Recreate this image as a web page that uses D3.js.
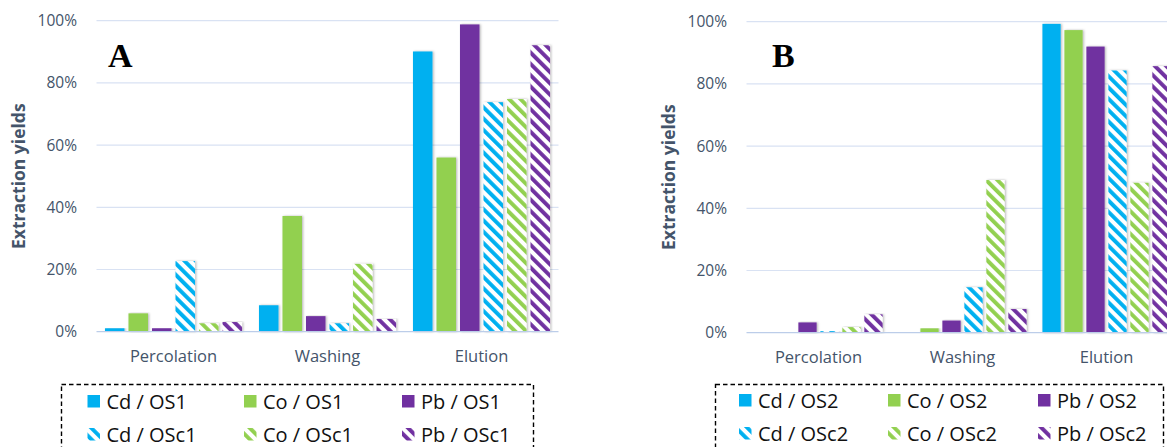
<!DOCTYPE html>
<html>
<head>
<meta charset="utf-8">
<script src="https://cdn.jsdelivr.net/npm/d3@7"></script>
<style>
  html, body { margin: 0; padding: 0; background: #fff; }
  svg { display: block; }
</style>
</head>
<body>
<svg id="chart" width="1167" height="447"></svg>
<script>
// ---------- data ----------
const categories = ["Percolation", "Washing", "Elution"];
const yTicks = [0, 20, 40, 60, 80, 100];
const metalColors = ["#00B0F0", "#92D050", "#7030A0"];

// Panel A (values in %)
const seriesA = ["Cd / OS1", "Co / OS1", "Pb / OS1", "Cd / OSc1", "Co / OSc1", "Pb / OSc1"];
const cdOS1  = [1.1, 8.5, 90.1];
const coOS1  = [5.9, 37.2, 56.0];
const pbOS1  = [1.1, 5.0, 98.8];
const cdOSc1 = [22.7, 2.7, 73.8];
const coOSc1 = [2.7, 21.8, 74.8];
const pbOSc1 = [3.1, 4.1, 92.1];

// Panel B (values in %)
const seriesB = ["Cd / OS2", "Co / OS2", "Pb / OS2", "Cd / OSc2", "Co / OSc2", "Pb / OSc2"];
const cdOS2  = [0, 0, 99.3];
const coOS2  = [0, 1.4, 97.3];
const pbOS2  = [3.3, 3.9, 92.0];
const cdOSc2 = [0.5, 14.6, 84.3];
const coOSc2 = [1.8, 49.1, 48.2];
const pbOSc2 = [5.9, 7.6, 85.7];

const valuesA = [cdOS1, coOS1, pbOS1, cdOSc1, coOSc1, pbOSc1];
const valuesB = [cdOS2, coOS2, pbOS2, cdOSc2, coOSc2, pbOSc2];

// ---------- drawing ----------
const svg = d3.select("#chart");
const defs = svg.append("defs");
const textColor = "#44546A";
const font = "'Open Sans', 'Noto Sans', sans-serif";

// hatch patterns
metalColors.forEach((c, i) => {
  const p = defs.append("pattern")
    .attr("id", "hatch" + i)
    .attr("patternUnits", "userSpaceOnUse")
    .attr("width", 8).attr("height", 8)
    .attr("patternTransform", "rotate(-45)");
  p.append("rect").attr("width", 8).attr("height", 8).attr("fill", "#fff");
  p.append("rect").attr("x", 0).attr("width", 3.9).attr("height", 8).attr("fill", c);
});
const sh = defs.append("filter").attr("id", "shadow")
  .attr("x", "-30%").attr("y", "-5%").attr("width", "160%").attr("height", "110%");
sh.append("feDropShadow").attr("dx", 1.2).attr("dy", 0).attr("stdDeviation", 0.9)
  .attr("flood-color", "#000").attr("flood-opacity", 0.28);

function fillFor(i) {
  return i < 3 ? metalColors[i] : "url(#hatch" + (i - 3) + ")";
}

function panel(opts) {
  const { x0, x1, y0, y1, values, series, letter, letterX, titleX, legend } = opts;
  const g = svg.append("g");

  const x = d3.scaleBand().domain(categories).range([x0, x1]).paddingInner(0).paddingOuter(0);
  const y = d3.scaleLinear().domain([0, 100]).range([y0, y1]);
  const groupPad = x.bandwidth() * 0.055;
  const xs = d3.scaleBand().domain(d3.range(series.length))
    .range([groupPad, x.bandwidth() - groupPad]).paddingInner(0.17).paddingOuter(0);

  // gridlines
  g.append("g").selectAll("line").data(yTicks.filter(d => d > 0)).join("line")
    .attr("x1", x0).attr("x2", x1)
    .attr("y1", d => y(d)).attr("y2", d => y(d))
    .attr("stroke", "#D9E2F3").attr("stroke-width", 1.2);

  // y axis labels
  const ya = g.append("g")
    .attr("transform", `translate(${x0 - 6},0)`)
    .call(d3.axisLeft(y).tickValues(yTicks).tickFormat(d => d + "%").tickSize(0).tickPadding(13.5));
  ya.select(".domain").remove();
  ya.selectAll("text").attr("fill", textColor).style("font-family", font).style("font-size", "15.5px");

  // bars
  series.forEach((s, si) => {
    g.append("g").selectAll("rect").data(values[si]).join("rect")
      .attr("x", (d, ci) => x(categories[ci]) + xs(si))
      .attr("width", xs.bandwidth())
      .attr("y", d => y(d))
      .attr("height", d => y(0) - y(d))
      .attr("fill", fillFor(si))
      .attr("filter", d => d > 0 ? "url(#shadow)" : null);
  });

  // baseline
  g.append("line").attr("x1", x0).attr("x2", x1).attr("y1", y(0)).attr("y2", y(0))
    .attr("stroke", "#BCCDE9").attr("stroke-width", 1.3);

  // category labels
  const xa = g.append("g").attr("transform", `translate(0,${y(0)})`)
    .call(d3.axisBottom(x).tickSize(0).tickPadding(19));
  xa.select(".domain").remove();
  xa.selectAll("text").attr("fill", textColor).style("font-family", font).style("font-size", "16.5px");

  // y title
  g.append("text")
    .attr("transform", `translate(${titleX},${(y0 + y1) / 2}) rotate(-90)`)
    .attr("text-anchor", "middle").attr("dominant-baseline", "central")
    .attr("fill", textColor).style("font-family", font)
    .style("font-size", "17.5px").style("font-weight", "bold")
    .text("Extraction yields");

  // panel letter
  g.append("text").attr("x", letterX).attr("y", 67)
    .style("font-family", "'Liberation Serif', 'Times New Roman', serif")
    .style("font-weight", "bold").style("font-size", "34px").attr("fill", "#000")
    .text(letter);

  // legend
  const lg = g.append("g");
  lg.append("rect").attr("x", legend.x).attr("y", legend.y)
    .attr("width", legend.w).attr("height", 90)
    .attr("fill", "none").attr("stroke", "#000").attr("stroke-width", 1.4)
    .attr("stroke-dasharray", "4.5,3");
  series.forEach((s, si) => {
    const col = si % 3, row = Math.floor(si / 3);
    const lx = legend.cols[col], ly = legend.rows[row];
    lg.append("rect").attr("x", lx).attr("y", ly - 6.5).attr("width", 12.5).attr("height", 12.5)
      .attr("fill", fillFor(si));
    lg.append("text").attr("x", lx + 19).attr("y", ly).attr("dominant-baseline", "central")
      .style("font-family", font).style("font-size", "20px").attr("fill", "#111")
      .text(s);
  });
}

panel({
  x0: 96.5, x1: 558.5, y0: 331.7, y1: 20.7,
  values: valuesA, series: seriesA, letter: "A", letterX: 108, titleX: 18,
  legend: { x: 61.5, y: 384.5, w: 472, cols: [87.5, 244, 402], rows: [401.5, 434.5] }
});

panel({
  x0: 746.5, x1: 1178.5, y0: 332.7, y1: 21.7,
  values: valuesB, series: seriesB, letter: "B", letterX: 772, titleX: 668,
  legend: { x: 715.5, y: 384.5, w: 448, cols: [739, 888, 1038], rows: [400.5, 433.5] }
});
</script>
</body>
</html>
